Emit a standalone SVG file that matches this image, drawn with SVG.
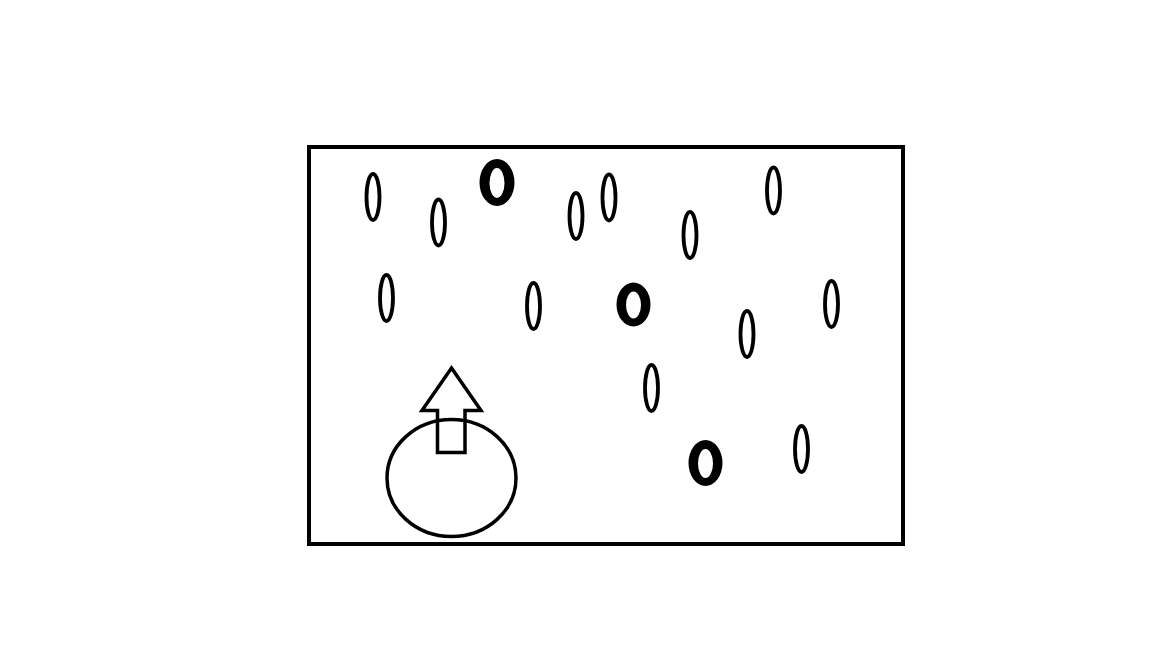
<svg xmlns="http://www.w3.org/2000/svg" width="1152" height="648" viewBox="0 0 1152 648">
<style>
.thin{fill:none;stroke:#000;stroke-width:3.8}
.bold{fill:#000;fill-rule:evenodd}
.ln{fill:none;stroke:#000;stroke-width:3.5}
</style>
<rect width="1152" height="648" fill="#fff"/>
<rect x="309" y="147" width="594" height="397" fill="none" stroke="#000" stroke-width="4"/>
<g id="drops">
<ellipse class="thin" cx="373" cy="197" rx="6.5" ry="23"/>
<ellipse class="thin" cx="438.5" cy="222.5" rx="6.5" ry="23"/>
<ellipse class="thin" cx="576" cy="216" rx="6.5" ry="23"/>
<ellipse class="thin" cx="609" cy="197.5" rx="6.5" ry="23"/>
<ellipse class="thin" cx="690" cy="235" rx="6.5" ry="23"/>
<ellipse class="thin" cx="773.5" cy="190.5" rx="6.5" ry="23"/>
<ellipse class="thin" cx="386.5" cy="298" rx="6.5" ry="23"/>
<ellipse class="thin" cx="533.5" cy="306" rx="6.5" ry="23"/>
<ellipse class="thin" cx="747" cy="334" rx="6.5" ry="23"/>
<ellipse class="thin" cx="831.5" cy="304" rx="6.5" ry="23"/>
<ellipse class="thin" cx="651.5" cy="388" rx="6.5" ry="23"/>
<ellipse class="thin" cx="801.5" cy="449" rx="6.5" ry="23"/>
<path class="bold" d="M479.5,182.5 a17.5,23.5 0 1,0 35,0 a17.5,23.5 0 1,0 -35,0 Z M489.5,183 a7.5,15 0 1,0 15,0 a7.5,15 0 1,0 -15,0 Z"/>
<path class="bold" d="M616.5,304.5 a17,22 0 1,0 34,0 a17,22 0 1,0 -34,0 Z M626,305 a7.5,13.5 0 1,0 15,0 a7.5,13.5 0 1,0 -15,0 Z"/>
<path class="bold" d="M688.5,463 a17,23 0 1,0 34,0 a17,23 0 1,0 -34,0 Z M698,463.5 a7.5,14.5 0 1,0 15,0 a7.5,14.5 0 1,0 -15,0 Z"/>
</g>
<g id="bubble">
<ellipse class="ln" cx="451.5" cy="478" rx="64.5" ry="58.5"/>
<polygon class="ln" points="451.5,368 481,410.5 465,410.5 465,452.5 437.5,452.5 437.5,410.5 422,410.5"/>
</g>
</svg>
